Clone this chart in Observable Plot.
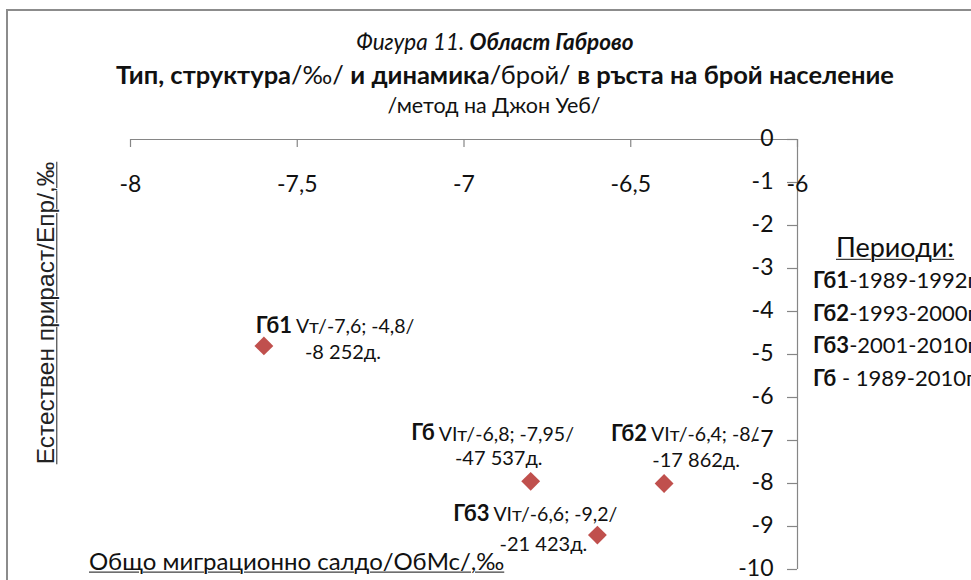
<!DOCTYPE html>
<html>
<head>
<meta charset="utf-8">
<script src="https://cdn.jsdelivr.net/npm/d3@7"></script>
<script src="https://cdn.jsdelivr.net/npm/@observablehq/plot@0.6"></script>
<style>
  html, body { margin: 0; padding: 0; background: #fff; }
  #wrap { position: relative; width: 971px; height: 580px; overflow: hidden; font-family: Lato, "Open Sans", sans-serif; color: #111; }
  #frame { position: absolute; left: 6px; top: 9px; width: 2000px; height: 2000px; border-top: 2px solid #8c8c8c; border-left: 2px solid #8c8c8c; }
  #chart { position: absolute; left: 0; top: 0; }
  .abs { position: absolute; white-space: nowrap; line-height: 1.2; }
  .center { transform: translate(-50%, -50%); }
  .vmid { transform: translateY(-50%); }
  .u { text-decoration: underline; text-decoration-thickness: 1px; text-underline-offset: 2px; }
</style>
</head>
<body>
<div id="wrap">
  <div id="frame"></div>
  <div id="chart"></div>
</div>
<script>
// ---- data ----
const names   = ["Гб1", "Гб2", "Гб3", "Гб"];
const types   = ["Vт", "VIт", "VIт", "VIт"];
const migration = [-7.6, -6.4, -6.6, -6.8];     // Общо миграционно салдо, ‰
const natural   = [-4.8, -8, -9.2, -7.95];      // Естествен прираст, ‰
const change    = ["-8 252д.", "-17 862д.", "-21 423д.", "-47 537д."];
const periodNames = ["Гб1", "Гб2", "Гб3", "Гб"];
const periods     = ["1989-1992г", "1993-2000г", "2001-2010г", "1989-2010г"];
const xTicks = [-8, -7.5, -7, -6.5, -6];
const yTicks = [0, -1, -2, -3, -4, -5, -6, -7, -8, -9, -10];
const xDomain = [-8, -6];
const yDomain = [-10, 0];

const fmt = v => String(v).replace(".", ",");
const idx = names.map((_, i) => i);

const FONT = "Lato, 'Open Sans', sans-serif";
const axisColor = "#868686";
const red = "#C0504D";

function pointLabel(i, o) {
  const sel = [i];
  return [
    Plot.text(sel, {x: j => migration[j], y: j => natural[j], text: j => names[j],
      textAnchor: "end", dx: o.sx, dy: o.sy, fontWeight: "bold", fontSize: 22, fontFamily: FONT, fill: "#111"}),
    Plot.text(sel, {x: j => migration[j], y: j => natural[j], text: j => `${types[j]}/${fmt(migration[j])}; ${fmt(natural[j])}/`,
      textAnchor: "start", dx: o.sx + 4, dy: o.sy + 1, fontSize: 19.5, fontFamily: FONT, fill: "#111"}),
    Plot.text(sel, {x: j => migration[j], y: j => natural[j], text: j => change[j],
      textAnchor: "middle", dx: o.lx, dy: o.ly, fontSize: 20, fontFamily: FONT, fill: "#111"})
  ];
}

const plot = Plot.plot({
  width: 971,
  height: 580,
  marginTop: 139,
  marginLeft: 130,
  marginRight: 174,
  marginBottom: 11,
  style: {background: "transparent", overflow: "visible"},
  x: {domain: xDomain, axis: null},
  y: {domain: yDomain, axis: null},
  marks: [
    // axis lines
    Plot.ruleY([0], {x1: xDomain[0], x2: xDomain[1], stroke: axisColor, strokeWidth: 1.2}),
    Plot.ruleX([xDomain[1]], {y1: yDomain[0], y2: yDomain[1], stroke: axisColor, strokeWidth: 1.2}),
    // x ticks (pointing down) and labels
    Plot.ruleX(xTicks, {x: d => d, y1: 0, y2: 0, insetBottom: -8, stroke: axisColor, strokeWidth: 1.2}),
    Plot.text(xTicks, {x: d => d, y: 0, text: d => fmt(d), dy: 45, fontSize: 23, fontFamily: FONT, fill: "#111"}),
    // y ticks (pointing left) and labels
    Plot.ruleY(yTicks, {y: d => d, x1: xDomain[1], x2: xDomain[1], insetLeft: -10, stroke: axisColor, strokeWidth: 1.2}),
    Plot.text(yTicks, {x: xDomain[1], y: d => d, text: d => fmt(d), textAnchor: "end", dx: -24, dy: -1, fontSize: 23, fontFamily: FONT, fill: "#111"}),
    // points
    Plot.dot(idx, {x: i => migration[i], y: i => natural[i], symbol: "diamond2", r: 8.5, fill: red, stroke: "none"}),
    ...pointLabel(0, {sx: 28, sy: -20, lx: 79, ly: 7}),
    ...pointLabel(1, {sx: -17, sy: -50, lx: 32, ly: -23}),
    ...pointLabel(2, {sx: -108, sy: -21, lx: -54, ly: 9}),
    ...pointLabel(3, {sx: -96, sy: -48, lx: -32, ly: -23})
  ]
});
document.getElementById("chart").appendChild(plot);

// ---- titles, axis titles and legend (HTML) ----
const wrap = document.getElementById("wrap");
function add(html, cls, css) {
  const d = document.createElement("div");
  d.className = "abs " + cls;
  d.innerHTML = html;
  Object.assign(d.style, css);
  wrap.appendChild(d);
  return d;
}
add('<i>Фигура 11. </i><b><i>Област Габрово</i></b>', "center", {left: "495px", top: "41px", fontSize: "22.5px"});
add('<b>Тип, структура</b>/‰/ <b>и динамика</b>/брой/ <b>в ръста на брой население</b>', "center", {left: "505px", top: "74px", fontSize: "25.5px"});
add('/метод на Джон Уеб/', "center", {left: "494px", top: "106px", fontSize: "21.5px"});

add('<span class="u">Естествен прираст/Епр/,‰</span>', "", {left: "46px", top: "313px", fontFamily: "'Liberation Sans', Arial, sans-serif", fontSize: "24.5px", color: "#222", transform: "translate(-50%, -50%) rotate(-90deg)"});
add('<span class="u">Общо миграционно салдо/ОбМс/,‰</span>', "vmid", {left: "89px", top: "561px", fontSize: "24px"});

add('<span class="u">Периоди:</span>', "vmid", {left: "836px", top: "247px", fontSize: "27px"});
periodNames.forEach((n, i) => {
  const sep = n === "Гб" ? " - " : "-";
  add(`<b>${n}</b>${sep}${periods[i]}`, "vmid", {left: "813px", top: (280 + i * 32.5) + "px", fontSize: "22px"});
});
</script>
</body>
</html>
